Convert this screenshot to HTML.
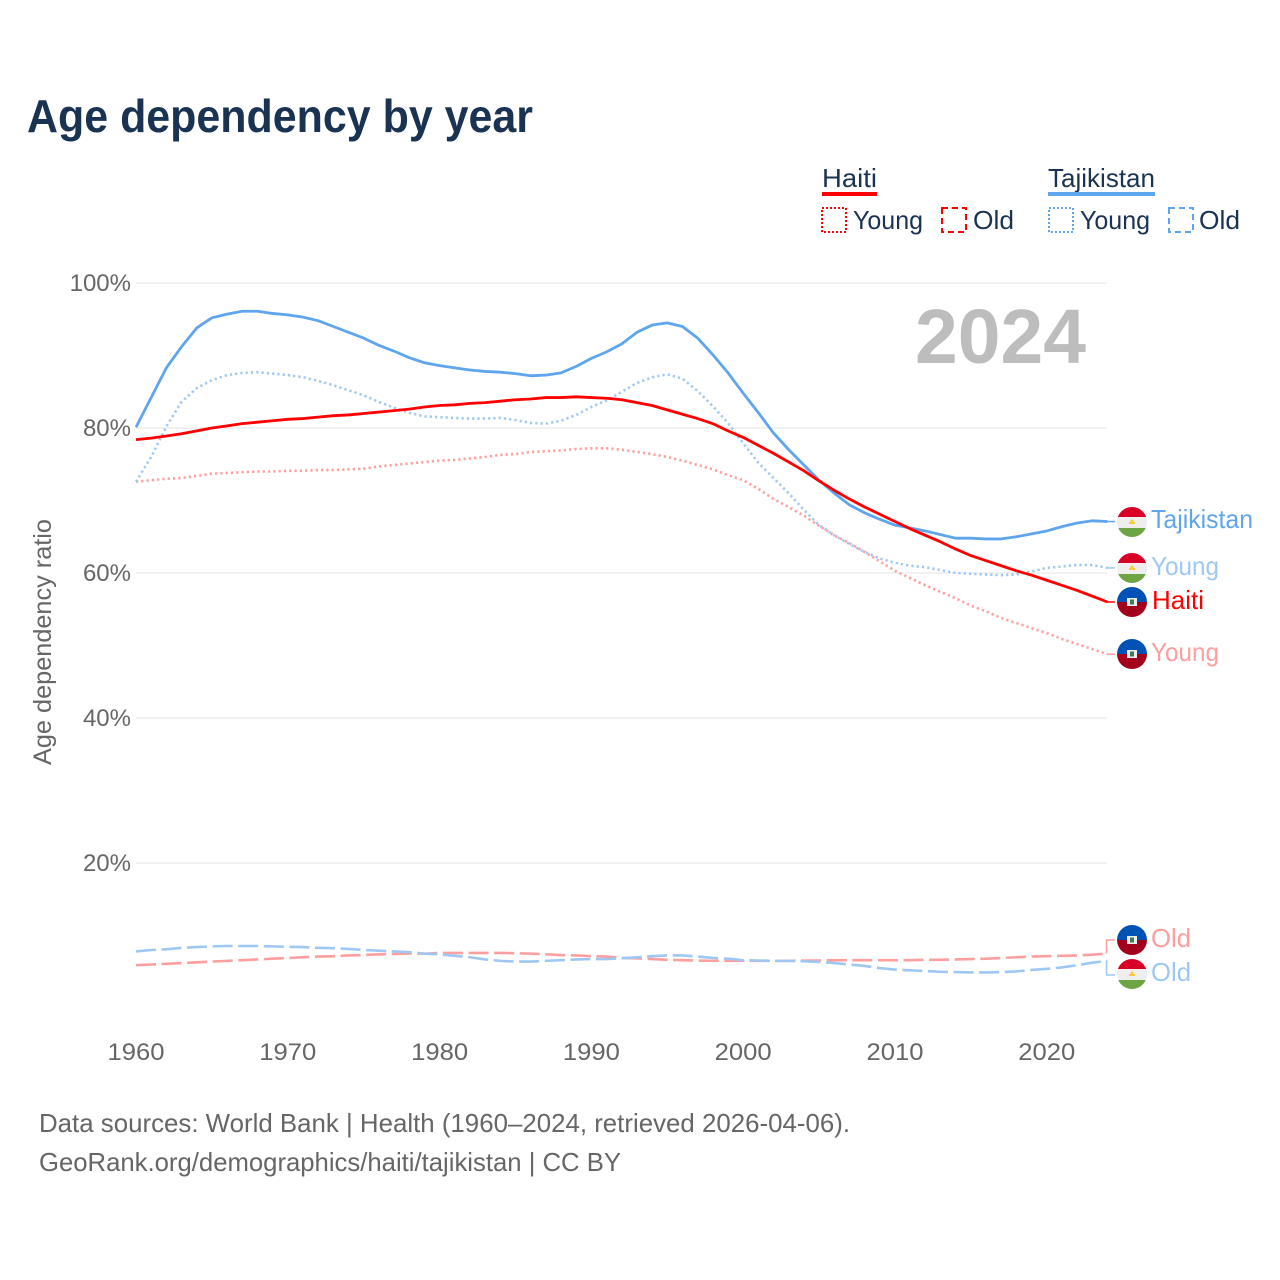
<!DOCTYPE html>
<html lang="en">
<head>
<meta charset="utf-8">
<title>Age dependency by year</title>
<style>
html,body{margin:0;padding:0;background:#fff;}
svg{display:block;font-family:"Liberation Sans",sans-serif;}
.tick{font-size:24px;fill:#666;}
.lbl{font-size:26px;}
.leg{font-size:26px;fill:#1a3353;}
.foot{font-size:26px;fill:#666;}
</style>
</head>
<body>
<svg id="chart" xmlns="http://www.w3.org/2000/svg" width="1280" height="1280" viewBox="0 0 1280 1280">
  <defs>
    <clipPath id="flag-clip"><circle cx="0" cy="0" r="15"/></clipPath>
    <g id="flag-tj" clip-path="url(#flag-clip)">
      <rect x="-15" y="-15" width="30" height="10" fill="#d80027"/>
      <rect x="-15" y="-5" width="30" height="11" fill="#eeeeee"/>
      <rect x="-15" y="6" width="30" height="9" fill="#6da544"/>
      <rect x="-3" y="0" width="6" height="2" fill="#ffc93c"/>
      <circle cx="0" cy="-1" r="1.5" fill="#ffc93c"/>
    </g>
    <g id="flag-ht" clip-path="url(#flag-clip)">
      <rect x="-15" y="-15" width="30" height="15" fill="#0052b4"/>
      <rect x="-15" y="0" width="30" height="15" fill="#a2001d"/>
      <rect x="-5" y="-4" width="10" height="8" fill="#eeeeee"/>
      <rect x="-2" y="-2.5" width="4" height="5" fill="#3f7a5a"/>
    </g>
  </defs>

  <text x="27" y="132" font-size="46" font-weight="700" fill="#1a3353" textLength="506" lengthAdjust="spacingAndGlyphs">Age dependency by year</text>

  <g>
    <text class="leg" x="822" y="187" textLength="55" lengthAdjust="spacingAndGlyphs">Haiti</text>
    <rect x="822" y="192" width="55" height="4" fill="#ff0000"/>
    <rect x="822" y="208" width="24" height="24" fill="none" stroke="#ff0000" stroke-width="2" stroke-dasharray="2 2"/>
    <text class="leg" x="853" y="229" textLength="70" lengthAdjust="spacingAndGlyphs">Young</text>
    <rect x="942" y="208" width="24" height="24" fill="none" stroke="#ff0000" stroke-width="2" stroke-dasharray="6 4"/>
    <text class="leg" x="973" y="229" textLength="41" lengthAdjust="spacingAndGlyphs">Old</text>
    <text class="leg" x="1048" y="187" textLength="107" lengthAdjust="spacingAndGlyphs">Tajikistan</text>
    <rect x="1048" y="192" width="107" height="4" fill="#5fa5ee"/>
    <rect x="1049" y="208" width="24" height="24" fill="none" stroke="#5fa5ee" stroke-width="2" stroke-dasharray="2 2"/>
    <text class="leg" x="1080" y="229" textLength="70" lengthAdjust="spacingAndGlyphs">Young</text>
    <rect x="1169" y="208" width="24" height="24" fill="none" stroke="#5fa5ee" stroke-width="2" stroke-dasharray="6 4"/>
    <text class="leg" x="1199" y="229" textLength="41" lengthAdjust="spacingAndGlyphs">Old</text>
  </g>

  <text transform="translate(51,642) rotate(-90)" text-anchor="middle" font-size="25" fill="#666" textLength="246" lengthAdjust="spacingAndGlyphs">Age dependency ratio</text>

  <g id="grid"></g>
  <g id="yticks"></g>
  <g id="xticks"></g>

  <text x="915" y="363" font-size="77" font-weight="700" fill="#bdbdbd" textLength="171" lengthAdjust="spacingAndGlyphs">2024</text>

  <g id="series"></g>

  <g>
    <use href="#flag-tj" transform="translate(1132,522)"/>
    <text class="lbl" x="1151" y="528" fill="#5fa5ee" textLength="102" lengthAdjust="spacingAndGlyphs">Tajikistan</text>
    <use href="#flag-tj" transform="translate(1132,568)"/>
    <text class="lbl" x="1151" y="575" fill="#9ec8f3" textLength="68" lengthAdjust="spacingAndGlyphs">Young</text>
    <use href="#flag-ht" transform="translate(1132,602)"/>
    <text class="lbl" x="1152" y="609" fill="#ff0000" textLength="52" lengthAdjust="spacingAndGlyphs">Haiti</text>
    <use href="#flag-ht" transform="translate(1132,654)"/>
    <text class="lbl" x="1151" y="661" fill="#ff9e9e" textLength="68" lengthAdjust="spacingAndGlyphs">Young</text>
    <use href="#flag-ht" transform="translate(1132,940)"/>
    <text class="lbl" x="1151" y="947" fill="#ff9e9e" textLength="40" lengthAdjust="spacingAndGlyphs">Old</text>
    <use href="#flag-tj" transform="translate(1132,974)"/>
    <text class="lbl" x="1151" y="981" fill="#9ec8f3" textLength="40" lengthAdjust="spacingAndGlyphs">Old</text>
  </g>

  <text class="foot" x="39" y="1132" textLength="811" lengthAdjust="spacingAndGlyphs">Data sources: World Bank | Health (1960–2024, retrieved 2026-04-06).</text>
  <text class="foot" x="39" y="1171" textLength="582" lengthAdjust="spacingAndGlyphs">GeoRank.org/demographics/haiti/tajikistan | CC BY</text>
</svg>

<script>
var startYear = 1960;
var xTickLabels = [1960, 1970, 1980, 1990, 2000, 2010, 2020];
var yTickLabels = [20, 40, 60, 80, 100];

var tajikistanTotal = [80.1,84.2,88.3,91.2,93.8,95.2,95.7,96.1,96.1,95.8,95.6,95.3,94.8,94.0,93.2,92.4,91.4,90.6,89.7,89.0,88.6,88.3,88.0,87.8,87.7,87.5,87.2,87.3,87.6,88.5,89.6,90.5,91.6,93.2,94.2,94.5,94.0,92.4,90.1,87.6,84.8,82.1,79.3,77.0,74.9,72.8,71.0,69.4,68.3,67.4,66.6,66.2,65.8,65.3,64.8,64.8,64.7,64.7,65.0,65.4,65.8,66.4,66.9,67.2,67.1];
var tajikistanYoung = [72.6,76.0,80.2,83.6,85.5,86.6,87.3,87.6,87.7,87.5,87.3,87.0,86.5,85.9,85.2,84.5,83.6,82.8,82.1,81.6,81.5,81.4,81.3,81.3,81.4,81.1,80.7,80.6,81.0,81.8,82.9,83.8,85.0,86.2,87.0,87.4,86.8,85.1,83.0,80.7,77.9,75.2,73.1,71.0,68.7,66.6,65.2,64.0,62.9,62.0,61.4,61.0,60.8,60.4,60.0,59.9,59.8,59.7,59.8,60.2,60.7,60.9,61.1,61.1,60.7];
var tajikistanOld = [7.8,8.0,8.1,8.3,8.4,8.5,8.55,8.55,8.55,8.5,8.45,8.4,8.3,8.25,8.15,8.0,7.9,7.8,7.7,7.5,7.4,7.2,7.0,6.7,6.5,6.4,6.4,6.5,6.6,6.7,6.75,6.75,6.85,7.0,7.15,7.25,7.25,7.1,6.9,6.8,6.6,6.55,6.5,6.5,6.45,6.35,6.2,6.0,5.8,5.5,5.3,5.2,5.1,5.0,4.95,4.9,4.9,4.95,5.05,5.25,5.4,5.6,5.9,6.25,6.5];
var haitiTotal = [78.4,78.6,78.9,79.2,79.6,80.0,80.3,80.6,80.8,81.0,81.2,81.3,81.5,81.7,81.8,82.0,82.2,82.4,82.6,82.9,83.1,83.2,83.4,83.5,83.7,83.9,84.0,84.2,84.2,84.3,84.2,84.1,83.9,83.5,83.1,82.5,81.9,81.3,80.6,79.6,78.7,77.6,76.5,75.3,74.1,72.7,71.4,70.2,69.1,68.1,67.1,66.1,65.2,64.3,63.3,62.4,61.7,61.0,60.3,59.7,59.0,58.3,57.6,56.8,56.0];
var haitiYoung = [72.6,72.8,73.0,73.1,73.4,73.7,73.8,73.9,74.0,74.0,74.1,74.1,74.2,74.2,74.3,74.4,74.7,74.9,75.1,75.3,75.5,75.6,75.8,76.0,76.3,76.4,76.7,76.8,76.9,77.1,77.2,77.2,77.0,76.7,76.4,76.0,75.5,74.9,74.3,73.5,72.8,71.6,70.2,69.1,67.9,66.5,65.2,64.1,62.9,61.6,60.3,59.3,58.3,57.4,56.5,55.5,54.7,53.8,53.1,52.4,51.7,50.9,50.2,49.5,48.8];
var haitiOld = [5.9,6.0,6.1,6.2,6.3,6.4,6.5,6.6,6.7,6.8,6.9,7.0,7.1,7.15,7.25,7.3,7.4,7.45,7.5,7.5,7.6,7.6,7.6,7.6,7.6,7.55,7.5,7.4,7.3,7.25,7.15,7.1,6.9,6.85,6.75,6.65,6.6,6.55,6.5,6.5,6.5,6.5,6.5,6.5,6.55,6.55,6.6,6.6,6.6,6.6,6.6,6.6,6.65,6.65,6.7,6.75,6.8,6.9,7.0,7.1,7.15,7.2,7.25,7.35,7.5];

var SVG_NS = "http://www.w3.org/2000/svg";
function xScale(year) { return 136 + (year - 1960) * 15.18; }
function yScale(pct) { return 1008 - pct * 7.25; }

function linePath(values) {
  var d = "";
  for (var i = 0; i < values.length; i++) {
    d += (i === 0 ? "M" : "L") + xScale(startYear + i).toFixed(2) + " " + yScale(values[i]).toFixed(2);
  }
  return d;
}

var gridGroup = document.getElementById("grid");
var yTickGroup = document.getElementById("yticks");
var xTickGroup = document.getElementById("xticks");
var seriesGroup = document.getElementById("series");

yTickLabels.forEach(function (v) {
  var line = document.createElementNS(SVG_NS, "line");
  
  
  line.setAttribute("x1", 136);
  line.setAttribute("x2", 1107);
  line.setAttribute("y1", yScale(v));
  line.setAttribute("y2", yScale(v));
  line.setAttribute("stroke", "#e3e3e3");
  line.setAttribute("stroke-width", "1");
  gridGroup.appendChild(line);

  var t = document.createElementNS(SVG_NS, "text");
  
  
  t.setAttribute("class", "tick");
  t.setAttribute("x", 131);
  t.setAttribute("y", yScale(v) + 8);
  t.setAttribute("text-anchor", "end");
  t.textContent = v + "%";
  yTickGroup.appendChild(t);
});

xTickLabels.forEach(function (y) {
  var t = document.createElementNS(SVG_NS, "text");
  
  
  t.setAttribute("class", "tick");
  t.setAttribute("x", xScale(y));
  t.setAttribute("y", 1060);
  t.setAttribute("text-anchor", "middle");
  t.setAttribute("textLength", "57");
  t.setAttribute("lengthAdjust", "spacingAndGlyphs");
  t.textContent = y;
  xTickGroup.appendChild(t);
});

function drawSeries(values, name, color, width, dash) {
  var p = document.createElementNS(SVG_NS, "path");
  
  
  p.setAttribute("d", linePath(values));
  p.setAttribute("fill", "none");
  p.setAttribute("stroke", color);
  p.setAttribute("stroke-width", width);
  p.setAttribute("stroke-linejoin", "round");
  if (dash) p.setAttribute("stroke-dasharray", dash);
  seriesGroup.appendChild(p);
}

function drawConnector(values, name, color, labelY) {
  var c = document.createElementNS(SVG_NS, "path");
  
  
  var lastX = xScale(startYear + values.length - 1);
  var lastY = yScale(values[values.length - 1]);
  var d = "M" + (lastX - 1) + " " + lastY;
  if (labelY !== null) d += "V" + labelY;
  d += "H1115";
  c.setAttribute("d", d);
  c.setAttribute("fill", "none");
  c.setAttribute("stroke", color);
  c.setAttribute("stroke-width", "1.5");
  seriesGroup.appendChild(c);
}

drawSeries(haitiOld, "line-haiti-old", "#ff9e9e", 2.6, "20 5.6");
drawSeries(tajikistanOld, "line-tajikistan-old", "#9ec8f3", 2.6, "20 5.6");
drawSeries(haitiYoung, "line-haiti-young", "#ff9e9e", 2.6, "2.2 3.1");
drawSeries(tajikistanYoung, "line-tajikistan-young", "#9ec8f3", 2.6, "2.2 3.1");
drawSeries(tajikistanTotal, "line-tajikistan-total", "#5fa5ee", 2.8, null);
drawSeries(haitiTotal, "line-haiti-total", "#ff0000", 2.8, null);

drawConnector(tajikistanTotal, "connector-tajikistan-total", "#5fa5ee", null);
drawConnector(tajikistanYoung, "connector-tajikistan-young", "#9ec8f3", null);
drawConnector(haitiTotal, "connector-haiti-total", "#ff0000", null);
drawConnector(haitiYoung, "connector-haiti-young", "#ff9e9e", null);
drawConnector(haitiOld, "connector-haiti-old", "#ff9e9e", 940);
drawConnector(tajikistanOld, "connector-tajikistan-old", "#9ec8f3", 975);
</script>
</body>
</html>
